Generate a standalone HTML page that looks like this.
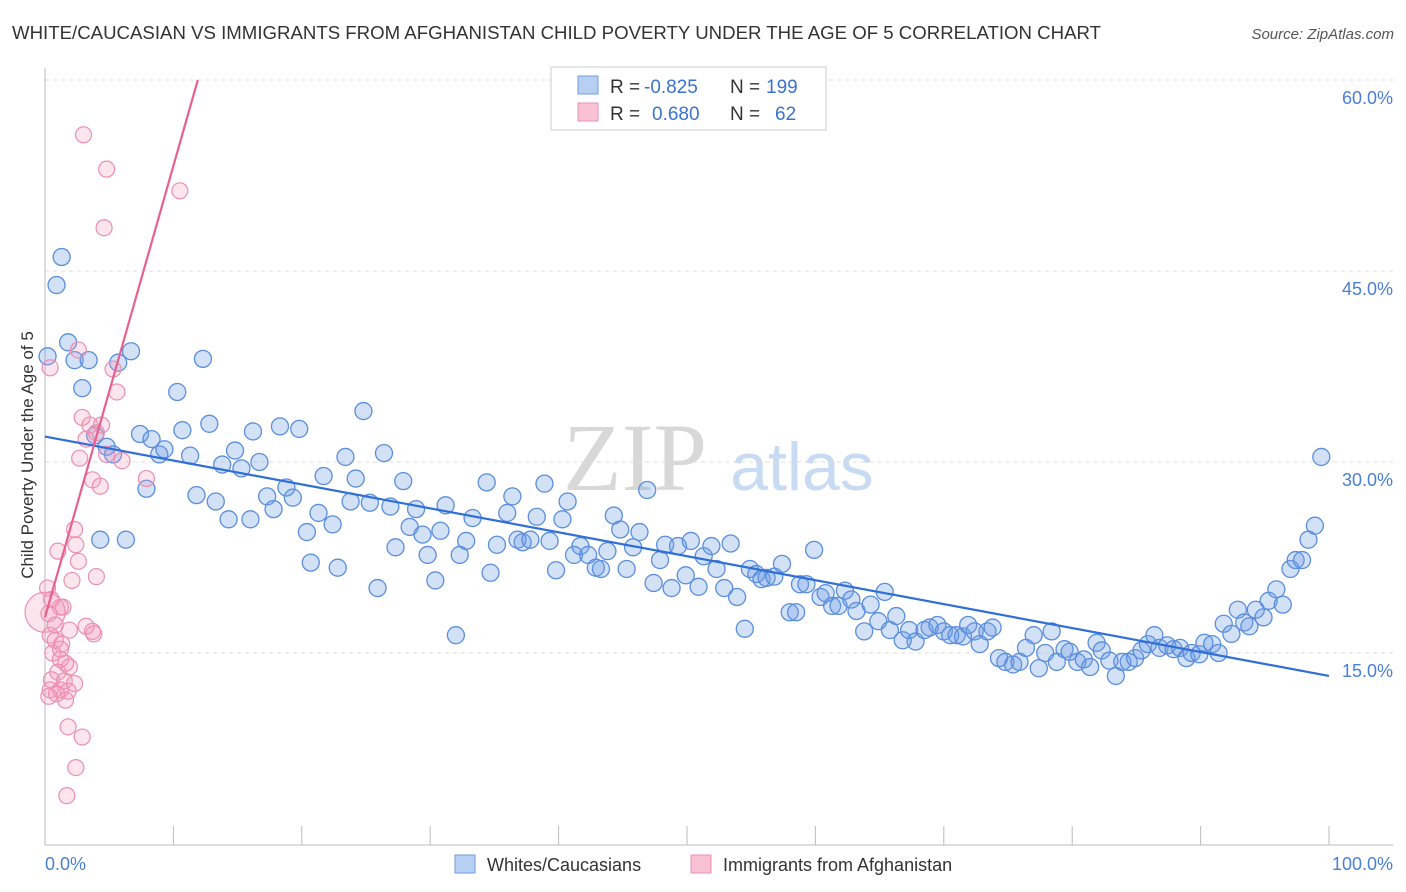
<!DOCTYPE html>
<html><head><meta charset="utf-8"><style>
body{margin:0;background:#fff;font-family:"Liberation Sans",sans-serif;}
#wrap{position:relative;width:1406px;height:892px;overflow:hidden;}
</style></head><body>
<div id="wrap">
<svg id="svg" width="1406" height="892" xmlns="http://www.w3.org/2000/svg">
<text x="12" y="39" font-size="18.6" fill="#333" textLength="1089" lengthAdjust="spacingAndGlyphs">WHITE/CAUCASIAN VS IMMIGRANTS FROM AFGHANISTAN CHILD POVERTY UNDER THE AGE OF 5 CORRELATION CHART</text>
<text x="1394" y="39" font-size="15" fill="#555" font-style="italic" text-anchor="end">Source: ZipAtlas.com</text>
<text x="635" y="490" font-size="96" fill="#d8d8d8" font-family="Liberation Serif,serif" text-anchor="middle">ZIP</text>
<text x="802" y="490" font-size="68" fill="#c8dbf2" text-anchor="middle">atlas</text>
<g id="grid"></g>
<g id="pts"></g>
<g id="lines"></g>
<text transform="translate(33,455) rotate(-90)" font-size="17" fill="#333" text-anchor="middle">Child Poverty Under the Age of 5</text>
<text x="45" y="870" font-size="18" fill="#4a7fd6">0.0%</text>
<text x="1393" y="870" font-size="18" fill="#4a7fd6" text-anchor="end">100.0%</text>
<g>
<rect x="551" y="67" width="275" height="63" fill="#fff" stroke="#ccc"/>
<rect x="578" y="76" width="20" height="18" fill="#b7cff2" stroke="#6f9be0"/>
<rect x="578" y="103" width="20" height="18" fill="#f8c2d4" stroke="#e892b0"/>
<text y="93" font-size="19" fill="#333"><tspan x="610">R = </tspan><tspan x="644" fill="#3a72d0">-0.825</tspan><tspan x="730">N = </tspan><tspan x="766" fill="#3a72d0">199</tspan></text>
<text y="120" font-size="19" fill="#333"><tspan x="610">R = </tspan><tspan x="652" fill="#3a72d0">0.680</tspan><tspan x="730">N = </tspan><tspan x="775" fill="#3a72d0">62</tspan></text>
</g>
<g>
<rect x="455" y="855" width="20" height="18" fill="#b7cff2" stroke="#6f9be0"/>
<text x="487" y="871" font-size="18" fill="#333">Whites/Caucasians</text>
<rect x="691" y="855" width="20" height="18" fill="#f8c2d4" stroke="#e892b0"/>
<text x="723" y="871" font-size="18" fill="#333">Immigrants from Afghanistan</text>
</g>
</svg>
</div>
<script>
const yTicks=[15,30,45,60];
const yTickLabels=["15.0%","30.0%","45.0%","60.0%"];
const xTicks=[0,10,20,30,40,50,60,70,80,90,100];
const blueX=[0.2,1.3,0.9,1.8,2.3,2.9,3.4,3.9,4.3,4.8,5.3,5.7,6.3,6.7,7.4,7.9,8.3,8.9,9.3,10.3,10.7,11.3,11.8,12.3,12.8,13.3,13.8,14.3,14.8,15.3,16.0,16.2,16.7,17.3,17.8,18.3,18.8,19.3,19.8,20.4,20.7,21.3,21.7,22.4,22.8,23.4,23.8,24.2,24.8,25.3,25.9,26.4,26.9,27.3,27.9,28.4,28.9,29.4,29.8,30.4,30.8,31.2,32.0,32.3,32.8,33.3,34.4,34.7,35.2,36.0,36.4,36.8,37.2,37.8,38.3,38.9,39.3,39.8,40.3,40.7,41.2,41.7,42.3,42.9,43.3,43.8,44.3,44.8,45.3,45.8,46.3,46.9,47.4,47.9,48.3,48.8,49.3,49.9,50.3,50.9,51.3,51.9,52.3,52.9,53.4,53.9,54.5,54.9,55.4,55.8,56.2,56.8,57.4,58.0,58.5,58.8,59.3,59.9,60.4,60.8,61.3,61.8,62.3,62.8,63.2,63.8,64.3,64.9,65.4,65.8,66.3,66.8,67.3,67.8,68.5,68.9,69.5,70.0,70.5,71.0,71.5,71.9,72.4,72.8,73.4,73.8,74.3,74.8,75.4,75.9,76.4,77.0,77.4,77.9,78.4,78.8,79.4,79.8,80.4,80.9,81.4,81.9,82.3,82.9,83.4,83.9,84.4,84.9,85.4,85.9,86.4,86.8,87.4,87.9,88.4,88.9,89.3,89.9,90.3,90.9,91.4,91.8,92.4,92.9,93.4,93.8,94.3,94.9,95.3,95.9,96.4,97.0,97.4,97.9,98.4,98.9,99.4];
const blueY=[38.3,46.1,43.9,39.4,38.0,35.8,38.0,32.1,23.9,31.2,30.6,37.8,23.9,38.7,32.2,27.9,31.8,30.6,31.0,35.5,32.5,30.5,27.4,38.1,33.0,26.9,29.8,25.5,30.9,29.5,25.5,32.4,30.0,27.3,26.3,32.8,28.0,27.2,32.6,24.5,22.1,26.0,28.9,25.1,21.7,30.4,26.9,28.7,34.0,26.8,20.1,30.7,26.5,23.3,28.5,24.9,26.3,24.3,22.7,20.7,24.6,26.6,16.4,22.7,23.8,25.6,28.4,21.3,23.5,26.0,27.3,23.9,23.7,23.9,25.7,28.3,23.8,21.5,25.5,26.9,22.7,23.4,22.7,21.7,21.6,23.0,25.8,24.7,21.6,23.3,24.5,27.8,20.5,22.3,23.5,20.1,23.4,21.1,23.8,20.2,22.6,23.4,21.6,20.1,23.6,19.4,16.9,21.6,21.2,20.8,20.9,21.0,22.0,18.2,18.2,20.4,20.4,23.1,19.4,19.7,18.7,18.7,19.9,19.2,18.3,16.7,18.8,17.5,19.8,16.8,17.9,16.0,16.8,15.9,16.8,17.0,17.2,16.7,16.4,16.4,16.3,17.2,16.7,15.7,16.7,17.0,14.6,14.3,14.1,14.3,15.4,16.4,13.8,15.0,16.7,14.3,15.3,15.1,14.3,14.5,13.9,15.8,15.2,14.4,13.2,14.3,14.3,14.6,15.2,15.7,16.4,15.4,15.6,15.3,15.4,14.6,15.0,14.9,15.8,15.7,15.0,17.3,16.5,18.4,17.4,17.1,18.4,17.8,19.1,20.0,18.8,21.6,22.3,22.3,23.9,25.0,30.4];
const pinkX=[3.0,4.8,4.6,10.5,2.6,0.4,5.3,5.6,2.9,3.5,4.0,4.4,3.2,4.8,6.0,2.7,3.7,4.3,7.9,2.3,2.4,1.0,2.6,4.0,2.1,0.2,1.2,0.3,1.4,3.2,3.8,1.9,0.4,0.8,1.3,3.7,0.6,1.2,1.6,1.0,1.9,0.5,1.5,2.3,0.4,1.2,1.8,0.9,0.3,1.6,1.8,2.9,2.4,1.7,1.2,0.8,0.5];
const pinkY=[55.7,53.0,48.4,51.3,38.8,37.4,37.3,35.5,33.5,32.9,32.3,32.9,31.8,30.6,30.1,30.3,28.6,28.1,28.7,24.7,23.5,23.0,22.2,21.0,20.7,20.1,18.6,18.1,18.6,17.1,16.5,16.8,16.4,16.0,15.7,16.7,15.0,14.5,14.2,13.5,13.9,12.9,12.8,12.6,12.1,12.1,12.0,11.8,11.6,11.3,9.2,8.4,6.0,3.8,15.3,17.2,19.2];
const pinkBigX=[0];
const pinkBigY=[18.2];
const blueTrend=[[0,32.0],[100,13.2]];
const pinkTrend=[[0,17.8],[11.9,60.0]];

const NS="http://www.w3.org/2000/svg";
const X0=45,X1=1329,Y0=844,PX=12.733;
function xs(v){return X0+(X1-X0)*v/100;}
function ys(v){return Y0-v*PX;}
function mk(tag,attrs,parent){const e=document.createElementNS(NS,tag);for(const k in attrs)e.setAttribute(k,attrs[k]);parent.appendChild(e);return e;}
const grid=document.getElementById('grid');
yTicks.forEach((t,i)=>{
  const l=mk('line',{x1:X0,x2:1393,y1:ys(t),y2:ys(t),stroke:'#ddd','stroke-dasharray':'4,4'},grid);
  
  
  const tx=mk('text',{x:1393,y:ys(t)+24,'font-size':18,fill:'#4a7fd6','text-anchor':'end'},grid);
  tx.textContent=yTickLabels[i];
  
  
});
const ax=mk('line',{x1:X0,x2:1393,y1:845,y2:845,stroke:'#bbb'},grid);


const ay=mk('line',{x1:X0,x2:X0,y1:68,y2:845,stroke:'#bbb'},grid);


xTicks.forEach(t=>{
  const l=mk('line',{x1:xs(t),x2:xs(t),y1:826,y2:845,stroke:'#bbb'},grid);
  
  
});
const pts=document.getElementById('pts');
blueX.forEach((x,i)=>{
  const c=mk('circle',{cx:xs(x),cy:ys(blueY[i]),r:8.5,fill:'rgba(110,155,230,0.3)',stroke:'#5a8ede','stroke-width':1.3},pts);
  
  
});
pinkX.forEach((x,i)=>{
  const c=mk('circle',{cx:xs(x),cy:ys(pinkY[i]),r:8,fill:'rgba(242,150,182,0.25)',stroke:'#ec8fb0','stroke-width':1.2},pts);
  
  
});
pinkBigX.forEach((x,i)=>{
  const c=mk('circle',{cx:xs(x),cy:ys(pinkBigY[i]),r:20,fill:'rgba(242,150,182,0.25)',stroke:'#ec8fb0','stroke-width':1.2},pts);
  
  
});
const lines=document.getElementById('lines');
const bl=mk('line',{x1:xs(blueTrend[0][0]),y1:ys(blueTrend[0][1]),x2:xs(blueTrend[1][0]),y2:ys(blueTrend[1][1]),stroke:'#2f6fd6','stroke-width':2.2},lines);


const pl=mk('line',{x1:xs(pinkTrend[0][0]),y1:ys(pinkTrend[0][1]),x2:xs(pinkTrend[1][0]),y2:ys(pinkTrend[1][1]),stroke:'#e8608f','stroke-width':2.2},lines);


</script>
</body></html>
